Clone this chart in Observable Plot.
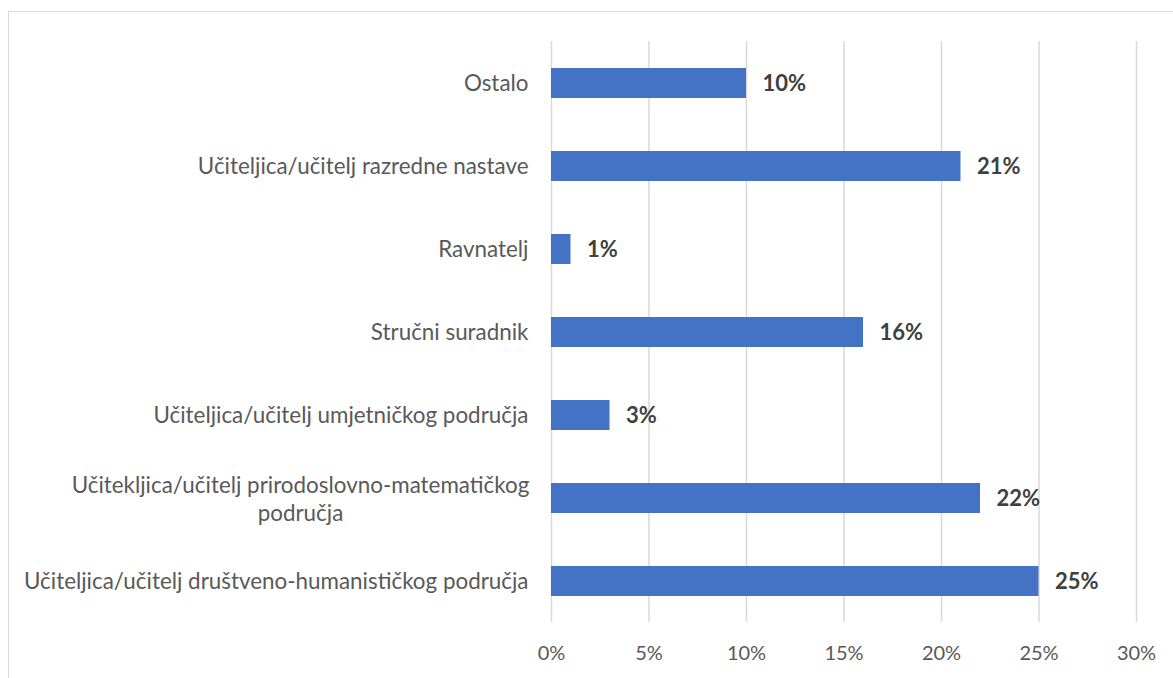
<!DOCTYPE html>
<html>
<head>
<meta charset="utf-8">
<script src="https://cdn.jsdelivr.net/npm/d3@7"></script>
<script src="https://cdn.jsdelivr.net/npm/@observablehq/plot@0.6"></script>
<style>
  html, body { margin: 0; padding: 0; background: #fff; overflow: hidden; }
  #wrap { position: relative; width: 1173px; height: 678px; }
  #border { position: absolute; left: 8px; top: 11px; width: 1200px; height: 700px; border: 1px solid #d9d9d9; box-sizing: border-box; pointer-events: none; }
  #chart { position: absolute; left: 0; top: 0; }
</style>
</head>
<body>
<div id="wrap"><div id="border"></div><div id="chart"></div></div>
<script>
const categories = [
  "Ostalo",
  "Učiteljica/učitelj razredne nastave",
  "Ravnatelj",
  "Stručni suradnik",
  "Učiteljica/učitelj umjetničkog područja",
  "Učitekljica/učitelj prirodoslovno-matematičkog\npodručja",
  "Učiteljica/učitelj društveno-humanističkog područja"
];
const values = [10, 21, 1, 16, 3, 22, 25];
const xTicks = [0, 5, 10, 15, 20, 25, 30];

const data = categories.map((c, i) => ({category: c, value: values[i]}));
const multiLine = categories.filter(c => c.includes("\n"));

const font = "Lato, 'Open Sans', sans-serif";

const chart = Plot.plot({
  width: 1173,
  height: 678,
  marginLeft: 551,
  marginRight: 37,
  marginTop: 41,
  marginBottom: 56,
  style: {fontFamily: font, background: "transparent"},
  x: {domain: [0, 30], ticks: xTicks, label: null},
  y: {domain: categories, paddingInner: 0.64, paddingOuter: 0.32, label: null},
  marks: [
    Plot.gridX(xTicks, {stroke: "#d9d9d9", strokeOpacity: 1, strokeWidth: 1.5}),
    Plot.barX(data, {x: "value", y: "category", fill: "#4472c4"}),
    Plot.text(data, {
      x: "value", y: "category", text: d => d.value + "%",
      textAnchor: "start", dx: 16, fontWeight: "bold", fontSize: 22, fill: "#404040"
    }),
    Plot.axisX(xTicks, {
      tickSize: 0, tickPadding: 23, tickFormat: d => d + "%", label: null,
      fontSize: 20, fill: "#595959", stroke: null
    }),
    Plot.axisY({
      tickSize: 0, tickPadding: 23, label: null,
      tickFormat: d => d.includes("\n") ? "" : d,
      fontSize: 22.4, fill: "#595959"
    }),
    Plot.text(multiLine, {
      y: d => d, text: d => d, frameAnchor: "left", dx: -251,
      textAnchor: "middle", fontSize: 22.4, fill: "#595959", lineHeight: 1.25
    })
  ]
});
document.getElementById("chart").appendChild(chart);
</script>
</body>
</html>
